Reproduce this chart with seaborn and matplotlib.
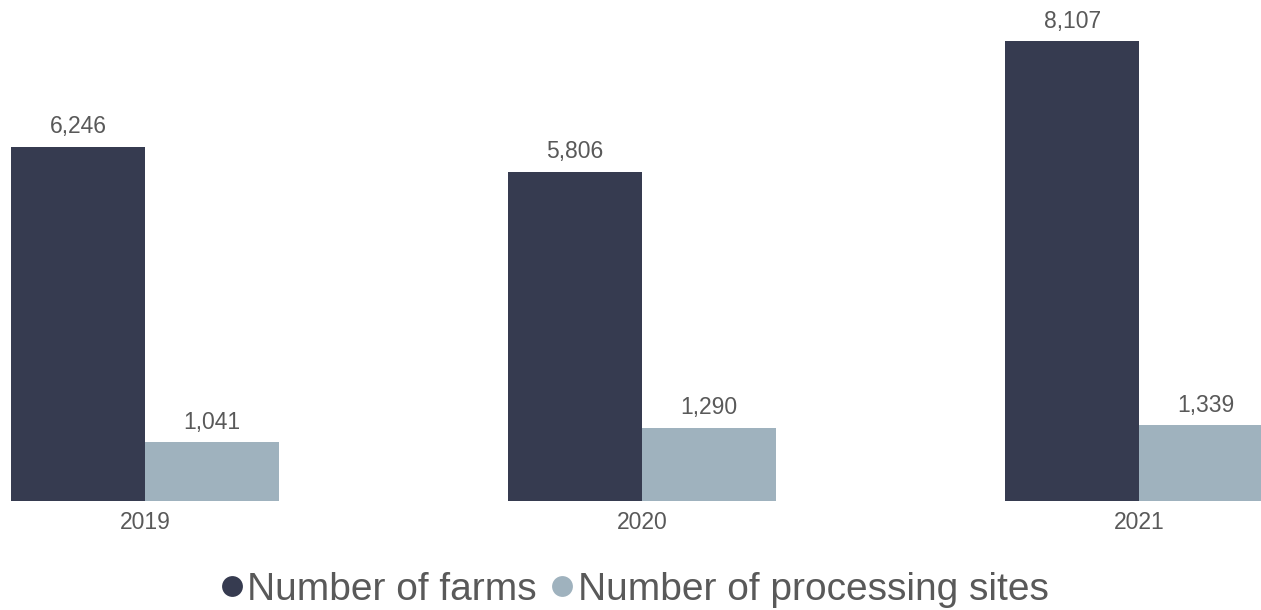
import matplotlib
matplotlib.use("Agg")
import matplotlib.pyplot as plt
from matplotlib.lines import Line2D
import seaborn as sns
import pandas as pd

years = ["2019", "2020", "2021"]
series_names = ["Number of farms", "Number of processing sites"]
farms = [6246, 5806, 8107]
processing = [1041, 1290, 1339]
colors = ["#363B50", "#9FB2BE"]
text_color = "#595959"

df = pd.DataFrame({
    "year": years * 2,
    "value": farms + processing,
    "series": [series_names[0]] * 3 + [series_names[1]] * 3,
})

sns.set_theme(style="white")
plt.rcParams["font.family"] = ["Liberation Sans", "DejaVu Sans"]

fig = plt.figure(figsize=(12.61, 6.10), dpi=100)
ax = fig.add_axes([0, 109 / 610, 1, 501 / 610])

sns.barplot(data=df, x="year", y="value", hue="series", palette=colors,
            width=0.54, ax=ax, legend=False, linewidth=0, saturation=1)

for c in ax.containers:
    ax.bar_label(c, labels=[f"{v:,.0f}" for v in c.datavalues], padding=6,
                 fontsize=16.5, color=text_color)

ax.set_xlim(-0.292, 2.245)
ax.set_ylim(0, 8830)
ax.set_xlabel("")
ax.set_ylabel("")
ax.set_yticks([])
ax.tick_params(axis="x", length=0, pad=7, labelsize=16.5, labelcolor=text_color)
for s in ax.spines.values():
    s.set_visible(False)

handles = [Line2D([], [], marker="o", linestyle="", markersize=15,
                  markerfacecolor=col, markeredgewidth=0) for col in colors]
fig.legend(handles, series_names, loc="center", bbox_to_anchor=(0.5, 1 - 590 / 610),
           ncol=2, frameon=False, fontsize=28, labelcolor=text_color,
           handletextpad=-0.1, columnspacing=0.15, handlelength=1.0)

fig.savefig("out.png", dpi=100)
